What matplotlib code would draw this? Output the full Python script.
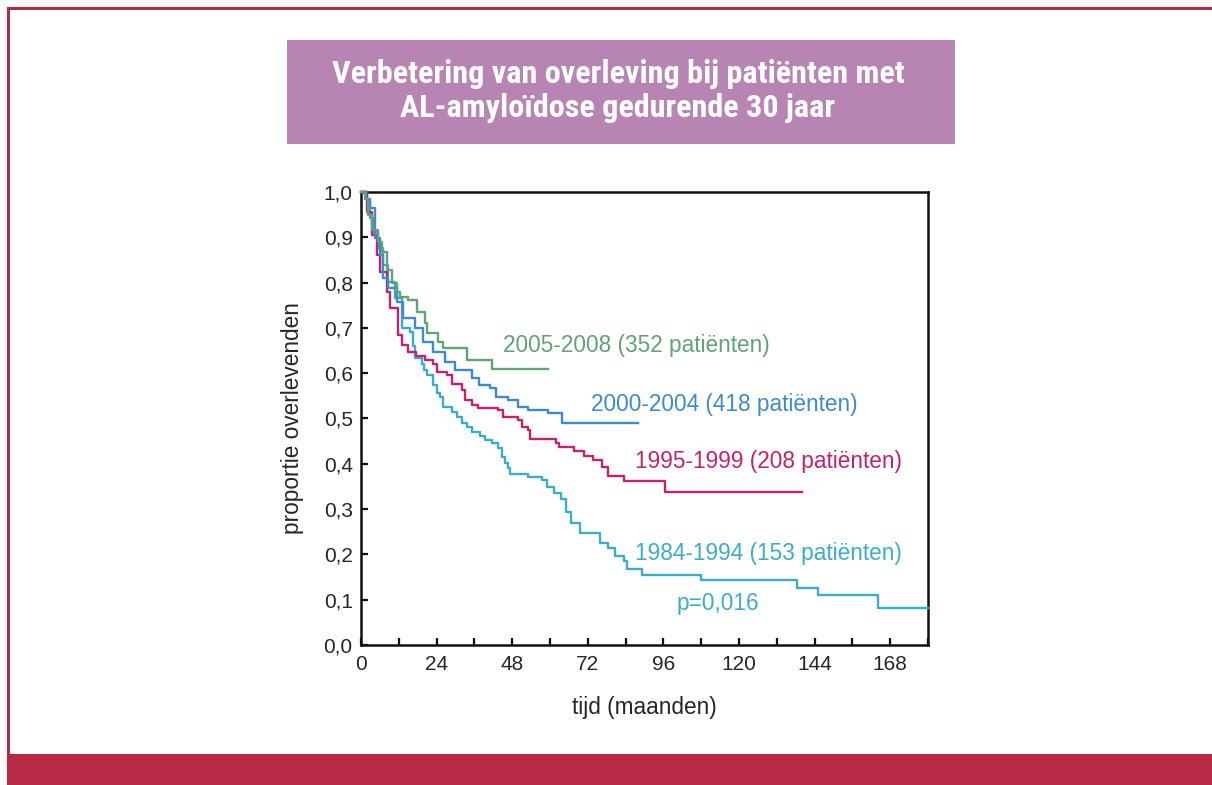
import matplotlib
matplotlib.use("Agg")
import matplotlib.pyplot as plt
from matplotlib.patches import Rectangle
from matplotlib.ticker import MultipleLocator, FuncFormatter
from matplotlib import font_manager

# Kaplan-Meier curves (months, proportion surviving)
green_t = [0, 1.3, 2.2, 3.5, 5.4, 6.7, 8.3, 9.8, 11.4, 12.4, 14.9, 17.8, 20.3, 21.0, 24.3, 26.0, 33.6, 41.6]
green_s = [1.0, 0.985, 0.949, 0.916, 0.89, 0.868, 0.828, 0.799, 0.779, 0.768, 0.762, 0.735, 0.711, 0.689, 0.669, 0.656, 0.629, 0.609]
green_end = 59.4

blue_t = [0, 1.5, 2.9, 4.4, 6.0, 7.0, 8.6, 11.4, 13.3, 17.1, 19.7, 22.9, 26.7, 29.8, 35.2, 37.5,
          41.0, 42.9, 46.7, 49.8, 53.0, 59.4, 63.8]
blue_s = [1.0, 0.985, 0.965, 0.898, 0.861, 0.81, 0.788, 0.757, 0.722, 0.70, 0.669, 0.647, 0.625, 0.607, 0.59, 0.574,
          0.567, 0.547, 0.541, 0.525, 0.519, 0.512, 0.49]
blue_end = 88

magenta_t = [0, 2.0, 3.5, 5.0, 6.0, 8.3, 9.2, 11.7, 13.0, 14.9, 17.5, 20.3, 22.9, 24.1, 27.3, 29.0, 32.0, 33.0,
             35.2, 37.1, 43.5, 45.1, 49.8, 51.1, 53.0, 53.7, 61.9, 62.9, 67.6, 70.8, 73.7, 76.5, 78.4, 83.5, 96.5]
magenta_s = [1.0, 0.956, 0.905, 0.861, 0.823, 0.779, 0.744, 0.684, 0.662, 0.647, 0.638, 0.629, 0.621, 0.603, 0.596,
             0.576, 0.563, 0.541, 0.530, 0.523, 0.519, 0.503, 0.497, 0.481, 0.475, 0.455, 0.446, 0.437, 0.428,
             0.417, 0.408, 0.393, 0.373, 0.362, 0.338]
magenta_end = 140

cyan_t = [0, 1.9, 2.9, 3.8, 5.4, 7.0, 8.6, 10.8, 13.0, 15.6, 16.5, 17.1, 19.4, 20.0, 21.0, 22.9, 24.1, 25.1,
          26.0, 28.9, 30.5, 32.1, 33.7, 35.2, 37.8, 39.4, 41.6, 43.5, 44.8, 45.7, 46.7, 47.3, 53.0, 57.5, 59.0,
          61.3, 63.5, 65.1, 66.7, 69.5, 75.9, 78.4, 80.6, 83.5, 84.4, 89.2, 108.0, 138.4, 145.0, 164.1]
cyan_s = [1.0, 0.978, 0.943, 0.912, 0.876, 0.839, 0.801, 0.766, 0.70, 0.691, 0.660, 0.634, 0.620, 0.607, 0.596,
          0.574, 0.556, 0.547, 0.525, 0.515, 0.503, 0.490, 0.481, 0.470, 0.462, 0.453, 0.446, 0.435, 0.415,
          0.402, 0.391, 0.378, 0.371, 0.364, 0.349, 0.336, 0.322, 0.294, 0.269, 0.247, 0.225, 0.214, 0.196,
          0.186, 0.168, 0.155, 0.143, 0.126, 0.110, 0.082]
cyan_end = 180

labels = ["2005-2008 (352 patiënten)", "2000-2004 (418 patiënten)",
          "1995-1999 (208 patiënten)", "1984-1994 (153 patiënten)"]
p_text = "p=0,016"
title = "Verbetering van overleving bij patiënten met\nAL-amyloïdose gedurende 30 jaar"

GREEN = "#60a377"
BLUE = "#3f8acb"
MAGENTA = "#c4216f"
CYAN = "#3badc6"
CRIMSON = "#b82945"
PURPLE = "#b784b4"
TEXT = "#262626"

W, H = 1212, 785
fig = plt.figure(figsize=(W / 100, H / 100), dpi=100)
fig.patch.set_facecolor("white")

plt.rcParams["font.family"] = ["Liberation Sans", "DejaVu Sans"]

# frame: thin lines top/left, thick band at the bottom
fig.add_artist(Rectangle((7 / W, 1 - 10 / H), 1 - 7 / W, 3 / H, transform=fig.transFigure,
                         facecolor=CRIMSON, edgecolor="none"))
fig.add_artist(Rectangle((7 / W, 31 / H), 3 / W, 1 - 41 / H, transform=fig.transFigure,
                         facecolor=CRIMSON, edgecolor="none"))
fig.add_artist(Rectangle((7 / W, 0), 1 - 7 / W, 31 / H, transform=fig.transFigure,
                         facecolor=CRIMSON, edgecolor="none"))

# title box
fig.add_artist(Rectangle((287 / W, 1 - 144 / H), 668 / W, 104 / H, transform=fig.transFigure,
                         facecolor=PURPLE, edgecolor="none"))


def has_font(name):
    try:
        font_manager.findfont(font_manager.FontProperties(family=name), fallback_to_default=False)
        return True
    except ValueError:
        return False


title_font, title_size, title_ls = "Liberation Sans", 19.0, 1.05
for name, size, ls in [("Roboto Condensed", 23.2, 1.2), ("Liberation Sans Narrow", 22.5, 1.2)]:
    if has_font(name):
        title_font, title_size, title_ls = name, size, ls
        break
fig.text(618 / W, 1 - 91 / H, title, ha="center", va="center", color="white",
         fontsize=title_size, fontweight="bold", family=[title_font, "DejaVu Sans"], linespacing=title_ls)

ax = fig.add_axes([361 / W, 1 - 645 / H, 567 / W, 453 / H])


def km(t, s, end):
    return list(t) + [end], list(s) + [s[-1]]


for t, s, end, c in [(cyan_t, cyan_s, cyan_end, CYAN),
                     (magenta_t, magenta_s, magenta_end, MAGENTA),
                     (blue_t, blue_s, blue_end, BLUE),
                     (green_t, green_s, green_end, GREEN)]:
    x, y = km(t, s, end)
    ax.plot(x, y, drawstyle="steps-post", color=c, lw=1.7, clip_on=False, zorder=3)

ax.set_xlim(0, 180)
ax.set_ylim(0, 1.0)
ax.xaxis.set_major_locator(MultipleLocator(12))
ax.yaxis.set_major_locator(MultipleLocator(0.1))
ax.xaxis.set_major_formatter(FuncFormatter(lambda v, p: f"{int(round(v))}" if round(v) % 24 == 0 and v < 175 else ""))
ax.yaxis.set_major_formatter(FuncFormatter(lambda v, p: f"{v:.1f}".replace(".", ",")))
ax.tick_params(direction="in", length=5, width=1.6, labelsize=15, color="#111111", labelcolor=TEXT)
ax.tick_params(axis="x", pad=7)
ax.tick_params(axis="y", pad=6)
for sp in ax.spines.values():
    sp.set_linewidth(1.8)
    sp.set_color("#111111")

ax.set_xlabel("tijd (maanden)", fontsize=16.3, color=TEXT, labelpad=16)
ax.set_ylabel("proportie overlevenden", fontsize=16.3, color=TEXT, labelpad=14)

lab_fs = 16.3
ax.text(0.2496, 0.662, labels[0], transform=ax.transAxes, color=GREEN, fontsize=lab_fs, va="center")
ax.text(0.4048, 0.530, labels[1], transform=ax.transAxes, color=BLUE, fontsize=lab_fs, va="center")
ax.text(0.4824, 0.404, labels[2], transform=ax.transAxes, color=MAGENTA, fontsize=lab_fs, va="center")
ax.text(0.4841, 0.203, labels[3], transform=ax.transAxes, color=CYAN, fontsize=lab_fs, va="center")
ax.text(0.5573, 0.091, p_text, transform=ax.transAxes, color=CYAN, fontsize=lab_fs, va="center")

fig.savefig("out.png", dpi=100, facecolor="white")
